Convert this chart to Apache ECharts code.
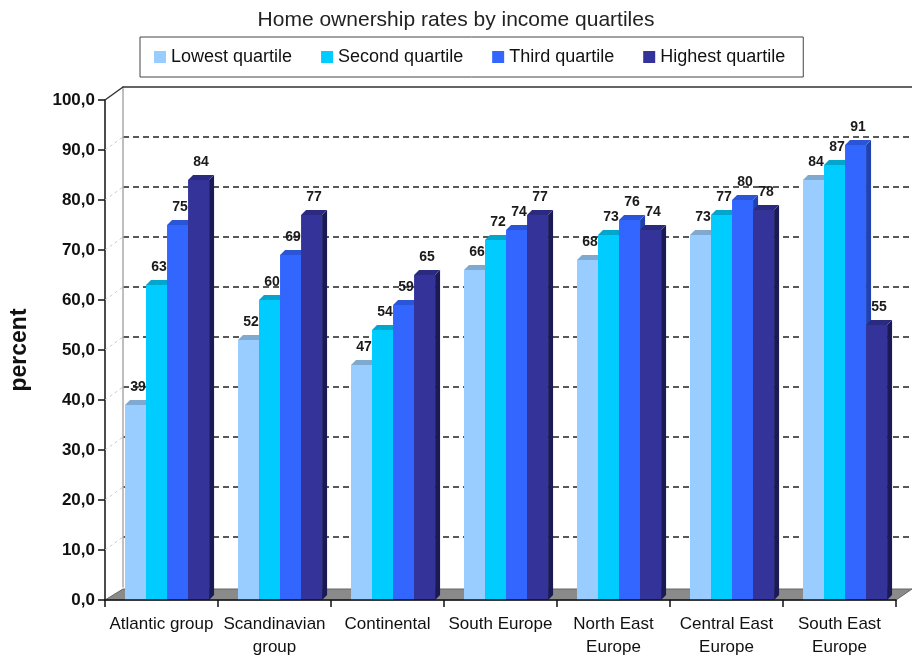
<!DOCTYPE html>
<html>
<head>
<meta charset="utf-8">
<script src="https://cdn.jsdelivr.net/npm/echarts@6/dist/echarts.min.js"></script>
<style>
html,body{margin:0;padding:0;background:#fff;}
#c{width:912px;height:661px;}
</style>
</head>
<body>
<div id="c"></div>
<script>
var categories = ['Atlantic group', 'Scandinavian\ngroup', 'Continental', 'South Europe', 'North East\nEurope', 'Central East\nEurope', 'South East\nEurope'];
var seriesNames = ['Lowest quartile', 'Second quartile', 'Third quartile', 'Highest quartile'];
var lowest  = [39, 52, 47, 66, 68, 73, 84];
var second  = [63, 60, 54, 72, 73, 77, 87];
var third   = [75, 69, 59, 74, 76, 80, 91];
var highest = [84, 77, 65, 77, 74, 78, 55];
var yTicks = [0, 10, 20, 30, 40, 50, 60, 70, 80, 90, 100];

var seriesValues = [lowest, second, third, highest];
var frontColors = ['#99ccff', '#00ccff', '#3366ff', '#333399'];
var topColors   = ['#7fa9cf', '#00a6cc', '#2a55d6', '#2a2a80'];
var sideColors  = ['#6f97c2', '#0091b5', '#1f42b0', '#1a1a55'];

var FONT = 'Arial, "Liberation Sans", sans-serif';
var BAR_FRAC = 0.186;
var OFF_FRAC = 0.049;
var DEPTH = 5;

function makeRender(si) {
  return function (params, api) {
    var cat = api.value(0), val = api.value(1);
    var pt = api.coord([cat, val]);
    var pb = api.coord([cat, 0]);
    var band = api.size([1, 0])[0];
    var w = band * BAR_FRAC;
    var x0 = pt[0] + band * OFF_FRAC + (si - 2) * w;
    var x1 = x0 + w;
    var yT = pt[1], yB = pb[1];
    var d = DEPTH;
    return {
      type: 'group',
      children: [
        { type: 'polygon', shape: { points: [[x1, yT], [x1 + d, yT - d], [x1 + d, yB - d], [x1, yB]] },
          style: { fill: sideColors[si] } },
        { type: 'polygon', shape: { points: [[x0, yT], [x0 + d, yT - d], [x1 + d, yT - d], [x1, yT]] },
          style: { fill: topColors[si] } },
        { type: 'rect', shape: { x: x0, y: yT, width: w, height: yB - yT },
          style: { fill: frontColors[si] } },
        { type: 'text', x: (x0 + x1 + d) / 2, y: yT - d - 6,
          style: { text: String(val), fill: '#1a1a1a', font: 'bold 14px ' + FONT, align: 'center', verticalAlign: 'bottom' } }
      ]
    };
  };
}

var series = seriesValues.map(function (vals, si) {
  return {
    name: seriesNames[si],
    type: 'custom',
    xAxisIndex: 0,
    yAxisIndex: 0,
    z: 5,
    itemStyle: { color: frontColors[si] },
    encode: { x: 0, y: 1 },
    data: vals.map(function (v, i) { return [i, v]; }),
    renderItem: makeRender(si)
  };
});

var chart = echarts.init(document.getElementById('c'), null, { renderer: 'canvas' });
chart.setOption({
  animation: false,
  backgroundColor: '#fff',
  title: {
    text: 'Home ownership rates by income quartiles',
    left: 'center',
    top: 5,
    textStyle: { fontSize: 21, fontWeight: 'normal', color: '#222', fontFamily: FONT }
  },
  legend: {
    data: seriesNames,
    left: 140,
    top: 37,
    padding: [11, 18, 11, 14],
    itemGap: 29,
    itemWidth: 12,
    itemHeight: 12,
    icon: 'rect',
    borderColor: '#444',
    borderWidth: 1,
    textStyle: { fontSize: 18, color: '#111', fontFamily: FONT }
  },
  grid: [
    { left: 105, right: 16, top: 100, bottom: 61 },
    { left: 123, right: 0, top: 87, bottom: 74 }
  ],
  xAxis: [
    {
      type: 'category',
      gridIndex: 0,
      data: categories,
      z: 6,
      axisLine: { show: true, lineStyle: { color: '#111', width: 1.5 } },
      axisTick: { show: true, length: 7, alignWithLabel: false, lineStyle: { color: '#111', width: 1.5 } },
      axisLabel: { interval: 0, margin: 13, fontSize: 17, color: '#111', fontFamily: FONT, lineHeight: 23 },
      splitLine: { show: false }
    },
    {
      type: 'value',
      gridIndex: 1,
      min: 0, max: 1,
      position: 'top',
      axisLine: { show: true, onZero: false, lineStyle: { color: '#333', width: 1.5 } },
      axisTick: { show: false },
      axisLabel: { show: false },
      splitLine: { show: false }
    }
  ],
  yAxis: [
    {
      type: 'value',
      gridIndex: 0,
      min: yTicks[0], max: yTicks[yTicks.length - 1], interval: 10,
      name: 'percent',
      nameLocation: 'middle',
      nameGap: 74,
      nameTextStyle: { fontSize: 23, fontWeight: 'bold', color: '#111', fontFamily: FONT },
      axisLine: { show: true, lineStyle: { color: '#111', width: 1.5 } },
      axisTick: { show: true, length: 7, lineStyle: { color: '#111', width: 1.5 } },
      axisLabel: {
        margin: 10, fontSize: 17, fontWeight: 'bold', color: '#111', fontFamily: FONT,
        formatter: function (v) { return v.toFixed(1).replace('.', ','); }
      },
      splitLine: { show: false }
    },
    {
      type: 'value',
      gridIndex: 1,
      min: yTicks[0], max: yTicks[yTicks.length - 1], interval: 10,
      axisLine: { show: true, lineStyle: { color: '#aaa', width: 1.5 } },
      axisTick: { show: false },
      axisLabel: { show: false },
      splitLine: { show: true, showMinLine: false, showMaxLine: false,
        lineStyle: { color: '#222', width: 1.5, type: [6, 4] } }
    }
  ],
  series: series
});

// 3D frame pieces (floor, wall slants) positioned through the axes
function drawFrame() {
  var c0 = chart.convertToPixel({ xAxisIndex: 0 }, 0);
  var c1 = chart.convertToPixel({ xAxisIndex: 0 }, 1);
  var cN = chart.convertToPixel({ xAxisIndex: 0 }, categories.length - 1);
  var band = c1 - c0;
  var xl = c0 - band / 2, xr = cN + band / 2;
  var wl = chart.convertToPixel({ xAxisIndex: 1 }, 0);
  var wr = chart.convertToPixel({ xAxisIndex: 1 }, 1);
  var fy = function (v) { return chart.convertToPixel({ yAxisIndex: 0 }, v); };
  var wy = function (v) { return chart.convertToPixel({ yAxisIndex: 1 }, v); };
  var els = [];
  els.push({ type: 'polygon', z: 1,
    shape: { points: [[xl, fy(0)], [wl, wy(0) + 2], [wr, wy(0) + 2], [xr, fy(0)]] },
    style: { fill: '#8a8a8a', stroke: '#666', lineWidth: 1 } });
  els.push({ type: 'line', z: 1,
    shape: { x1: xl, y1: fy(100), x2: wl, y2: wy(100) },
    style: { stroke: '#333', lineWidth: 1.5 } });
  for (var i = 1; i < yTicks.length - 1; i++) {
    var v = yTicks[i];
    els.push({ type: 'line', z: 1,
      shape: { x1: xl, y1: fy(v), x2: wl, y2: wy(v) },
      style: { stroke: '#ccc', lineWidth: 1, lineDash: [3, 3] } });
  }
  chart.setOption({ graphic: els });
}
drawFrame();
</script>
</body>
</html>
